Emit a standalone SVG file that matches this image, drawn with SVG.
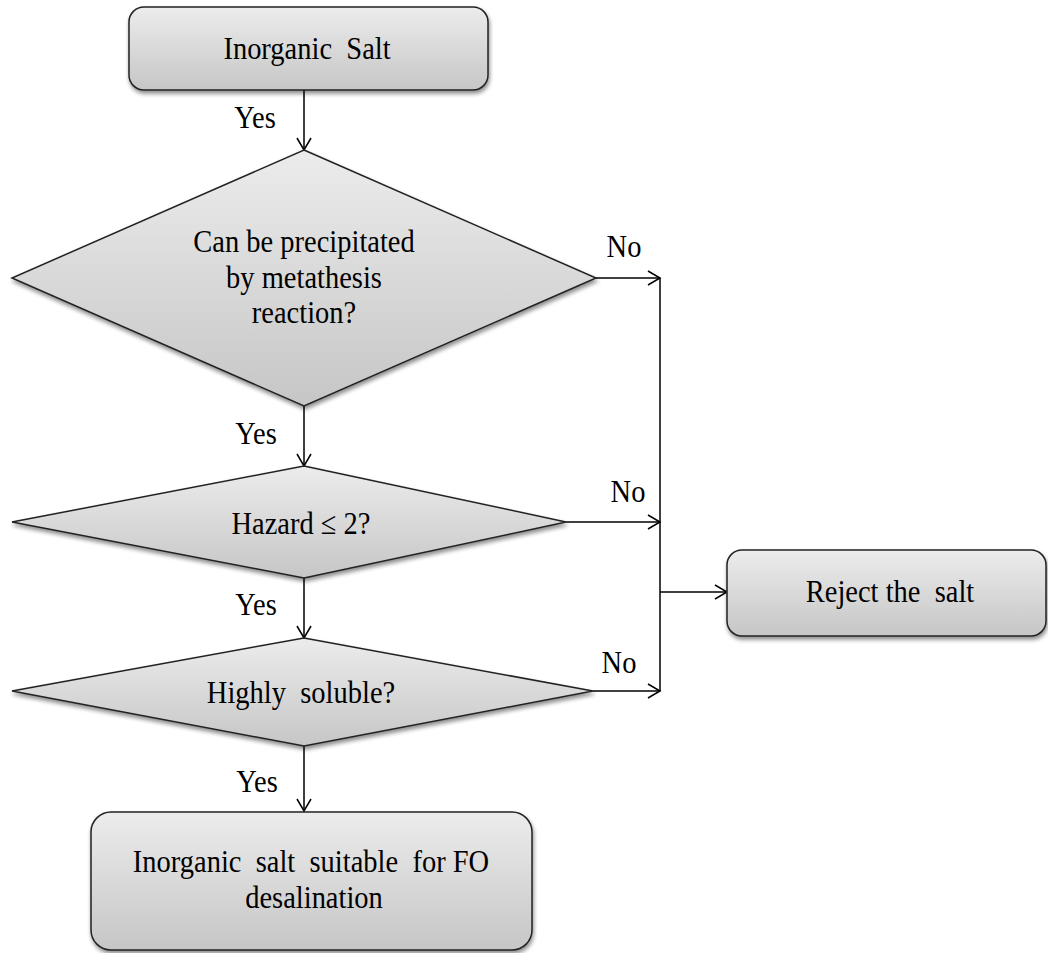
<svg xmlns="http://www.w3.org/2000/svg" width="1048" height="953" viewBox="0 0 1048 953">
<defs>
<linearGradient id="g" x1="0" y1="0" x2="0" y2="1">
<stop offset="0" stop-color="#ececec"/>
<stop offset="1" stop-color="#c6c6c6"/>
</linearGradient>
<filter id="sh" x="-10%" y="-10%" width="120%" height="130%">
<feGaussianBlur in="SourceAlpha" stdDeviation="2"/>
<feOffset dx="1" dy="3" result="b"/>
<feComponentTransfer><feFuncA type="linear" slope="0.45"/></feComponentTransfer>
<feMerge><feMergeNode/><feMergeNode in="SourceGraphic"/></feMerge>
</filter>
<marker id="ah" markerWidth="20" markerHeight="20" refX="13" refY="8" orient="auto" markerUnits="userSpaceOnUse">
<path d="M1,1 L13,8 L1,15" fill="none" stroke="#000" stroke-width="1.5"/>
</marker>
</defs>
<style>
.n{fill:url(#g);stroke:#222;stroke-width:1.5;filter:url(#sh)}
.t{font-family:'Liberation Serif',Tinos,'DejaVu Serif',serif;font-size:28.5px;fill:#000;text-anchor:middle}
.c{fill:none;stroke:#000;stroke-width:1.5}
.a{marker-end:url(#ah)}
</style>
<rect width="1048" height="953" fill="#fff"/>
<g id="connectors">
<line class="c a" x1="304" y1="90" x2="304" y2="150"/>
<line class="c a" x1="304" y1="406" x2="304" y2="466"/>
<line class="c a" x1="304" y1="578" x2="304" y2="638"/>
<line class="c a" x1="304" y1="746" x2="304" y2="811"/>
<line class="c a" x1="596" y1="278" x2="660" y2="278"/>
<line class="c a" x1="566" y1="522" x2="660" y2="522"/>
<line class="c a" x1="593" y1="691" x2="660" y2="691"/>
<line class="c" x1="660" y1="278" x2="660" y2="691"/>
<line class="c a" x1="660" y1="592" x2="727" y2="592"/>
<text class="t" font-family="Liberation Serif" transform="translate(255,128) scale(1,1.12)">Yes</text>
<text class="t" transform="translate(256,444) scale(1,1.12)">Yes</text>
<text class="t" transform="translate(256,615) scale(1,1.12)">Yes</text>
<text class="t" transform="translate(257,792) scale(1,1.12)">Yes</text>
<text class="t" transform="translate(624,257) scale(1,1.12)">No</text>
<text class="t" transform="translate(628,502) scale(1,1.12)">No</text>
<text class="t" transform="translate(619,673) scale(1,1.12)">No</text>
</g>
<g id="start">
<rect class="n" x="129" y="7" width="359" height="83" rx="15"/>
<text class="t" transform="translate(307,59) scale(1,1.12)" xml:space="preserve">Inorganic  Salt</text>
</g>
<g id="q1">
<polygon class="n" points="304,150 596,278 304,406 12,278"/>
<text class="t" transform="translate(304,252) scale(1,1.12)">Can be precipitated</text>
<text class="t" transform="translate(304,288) scale(1,1.12)">by metathesis</text>
<text class="t" transform="translate(304,323) scale(1,1.12)">reaction?</text>
</g>
<g id="q2">
<polygon class="n" points="304,466 566,522 304,578 12,522"/>
<text class="t" transform="translate(301,534) scale(1,1.12)">Hazard ≤ 2?</text>
</g>
<g id="q3">
<polygon class="n" points="304,638 593,691 304,746 12,691"/>
<text class="t" transform="translate(301,703) scale(1,1.12)" xml:space="preserve">Highly  soluble?</text>
</g>
<g id="reject">
<rect class="n" x="727" y="550" width="319" height="86" rx="15"/>
<text class="t" transform="translate(890,602) scale(1,1.12)" xml:space="preserve">Reject the  salt</text>
</g>
<g id="end">
<rect class="n" x="91" y="812" width="441" height="138" rx="20"/>
<text class="t" transform="translate(311,872) scale(1,1.12)" xml:space="preserve">Inorganic  salt  suitable  for FO</text>
<text class="t" transform="translate(314,908) scale(1,1.12)">desalination</text>
</g>
</svg>
